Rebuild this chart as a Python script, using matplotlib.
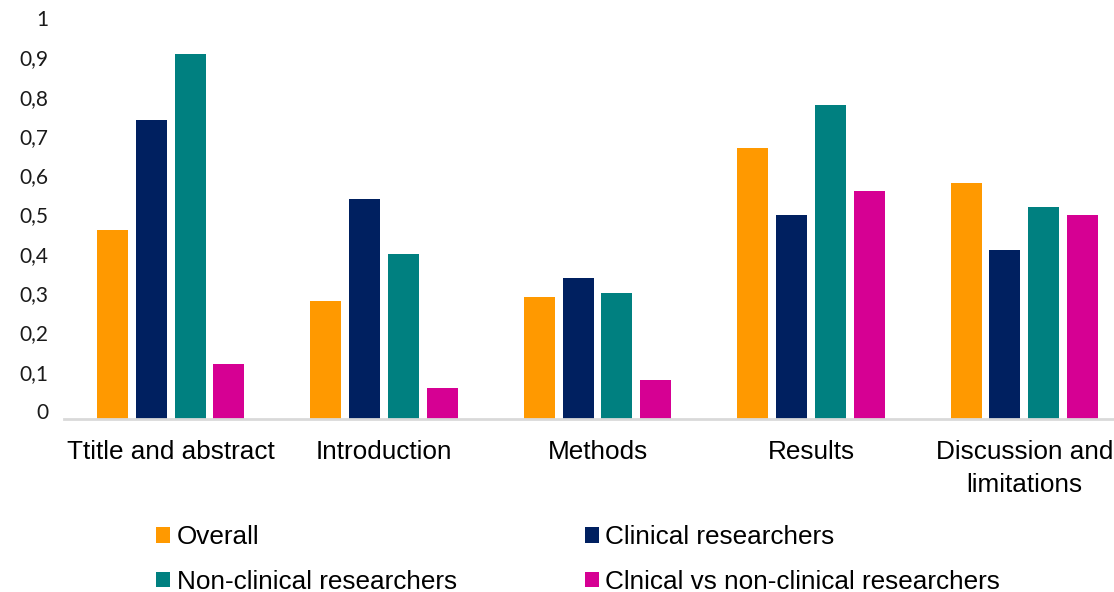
import matplotlib
matplotlib.use("Agg")
import matplotlib.pyplot as plt
import matplotlib.transforms as mtransforms
from matplotlib.patches import Patch
import numpy as np

categories = ["Ttitle and abstract", "Introduction", "Methods", "Results",
              "Discussion and\nlimitations"]
series_names = ["Overall", "Clinical researchers", "Non-clinical researchers",
                "Clnical vs non-clinical researchers"]
overall = [0.48, 0.30, 0.31, 0.69, 0.60]
clinical = [0.76, 0.56, 0.36, 0.52, 0.43]
non_clinical = [0.93, 0.42, 0.32, 0.80, 0.54]
clin_vs_nonclin = [0.14, 0.08, 0.10, 0.58, 0.52]
yticks = [0, 0.1, 0.2, 0.3, 0.4, 0.5, 0.6, 0.7, 0.8, 0.9, 1]
ytick_labels = ["0", "0,1", "0,2", "0,3", "0,4", "0,5", "0,6", "0,7", "0,8", "0,9", "1"]

colors = ["#FF9900", "#002060", "#008080", "#D60093"]
series = [overall, clinical, non_clinical, clin_vs_nonclin]

W, H = 1114, 592
fig = plt.figure(figsize=(W / 100, H / 100), dpi=100)
ax = fig.add_axes([64 / W, 173 / H, (W - 64) / W, 393 / H])

x = np.arange(len(categories))
pitch = 0.182
width = 0.145
for i, (vals, col) in enumerate(zip(series, colors)):
    ax.bar(x + (i - 1.5) * pitch, vals, width=width, color=col, label=series_names[i])

ax.set_xlim(-0.5, 4.42)
ax.set_ylim(0, 1)
ax.set_yticks(yticks)
ax.set_yticklabels(ytick_labels, fontname="Lato", fontsize=15, color="#1a1a1a")
ax.set_xticks(x)
ax.set_xticklabels(categories, fontname="Liberation Sans", fontsize=18.8,
                   color="black", linespacing=1.5, va="top")
ax.tick_params(axis="y", length=0, pad=11)
ax.tick_params(axis="x", length=0, pad=15)
for lbl in ax.get_yticklabels():
    lbl.set_transform(lbl.get_transform() +
                      mtransforms.ScaledTranslation(0, 8 / 100, fig.dpi_scale_trans))

for s in ["top", "right", "left"]:
    ax.spines[s].set_visible(False)
ax.spines["bottom"].set_color("#d9d9d9")
ax.spines["bottom"].set_linewidth(2)

handles = [Patch(facecolor=c, edgecolor="none") for c in colors]
order = [0, 2, 1, 3]
fig.legend([handles[i] for i in order], [series_names[i] for i in order],
           ncol=2, loc="upper left", bbox_to_anchor=(156 / W, 1 - 525 / H),
           frameon=False, borderpad=0, borderaxespad=0,
           prop={"family": "Liberation Sans", "size": 18.8},
           handlelength=0.54, handleheight=0.54, handletextpad=0.25,
           columnspacing=4.9, labelspacing=0.8)

fig.savefig("out.png", dpi=100)
